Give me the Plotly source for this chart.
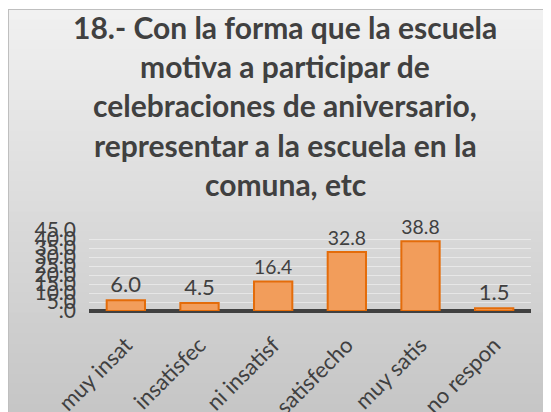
import plotly.graph_objects as go

# data
categorias = ["muy insat", "insatisfec", "ni insatisf", "satisfecho", "muy satis", "no respon"]
porcentajes = [6.0, 4.5, 16.4, 32.8, 38.8, 1.5]
tick_vals = [0, 5, 10, 15, 20, 25, 30, 35, 40, 45]
tick_text = [".0", "5.0", "10.0", "15.0", "20.0", "25.0", "30.0", "35.0", "40.0", "45.0"]
titulo = ["18.- Con la forma que la escuela",
          "motiva a participar de",
          "celebraciones de aniversario,",
          "representar a la escuela en la",
          "comuna, etc"]

# page body adds 8px margin, so the figure starts at (8, 8) on screen
OFF = 8
W, H = 551 - OFF, 412 - OFF
L, T = 89 - OFF, 230 - OFF
R = W - (531 - OFF)
B = H - (311 - OFF)
pw, ph = W - L - R, H - T - B

def px_x(sx):
    return (sx - OFF - L) / pw

def px_y(sy):
    return (H - B - (sy - OFF)) / ph

TXT = "#404040"
FONT = "Lato"

fig = go.Figure(go.Bar(
    x=categorias, y=porcentajes,
    marker=dict(color="#F29D5B", line=dict(color="#E46C0A", width=2)),
    text=porcentajes, texttemplate="%{y:.1f}", textposition="outside",
    textfont=dict(size=22, color=TXT, family=FONT),
    cliponaxis=False,
))

# background gradient of the chart area (light at top, darker at bottom)
shapes = []
n = 40
y0, y1 = 9, 414
for i in range(n):
    a = y0 + (y1 - y0) * i / n
    b = y0 + (y1 - y0) * (i + 1) / n + 1
    t = i / (n - 1)
    c = int(241 - t * 43)
    shapes.append(dict(type="rect", xref="paper", yref="paper", layer="below",
                       x0=px_x(8), x1=px_x(555), y0=px_y(a), y1=px_y(b),
                       fillcolor=f"rgb({c},{c},{c})", line=dict(width=0)))
# frame edges
shapes.append(dict(type="line", xref="paper", yref="paper", layer="below",
                   x0=px_x(8.5), x1=px_x(8.5), y0=px_y(9), y1=px_y(414),
                   line=dict(color="#BFBFBF", width=1)))
shapes.append(dict(type="line", xref="paper", yref="paper", layer="below",
                   x0=px_x(8), x1=px_x(555), y0=px_y(9.5), y1=px_y(9.5),
                   line=dict(color="#BFBFBF", width=1)))

annotations = []
for i, linea in enumerate(titulo):
    annotations.append(dict(text=f"<b>{linea}</b>", xref="paper", yref="paper",
                            x=px_x(285), y=px_y(27 + 39.2 * i), showarrow=False,
                            xanchor="center", yanchor="middle",
                            font=dict(size=30, color=TXT, family=FONT)))

fig.update_layout(
    width=W, height=H,
    margin=dict(l=L, r=R, t=T, b=B, autoexpand=False),
    paper_bgcolor="white", plot_bgcolor="rgba(0,0,0,0)",
    showlegend=False, bargap=0.48,
    shapes=shapes, annotations=annotations,
    font=dict(family=FONT, color=TXT),
    xaxis=dict(tickangle=-45, tickfont=dict(size=22, color=TXT, family=FONT),
               showgrid=False, showline=False, ticks="", automargin=False,
               ticklabelstandoff=16),
    yaxis=dict(range=[0, 45], tickvals=tick_vals, ticktext=tick_text,
               tickfont=dict(size=21, color=TXT, family=FONT),
               showgrid=True, gridcolor="rgba(255,255,255,0.45)", gridwidth=1,
               zeroline=True, zerolinecolor="#404040", zerolinewidth=4,
               showline=False, ticks="", ticklabelstandoff=12, automargin=False),
)

fig.write_html("out.html")
